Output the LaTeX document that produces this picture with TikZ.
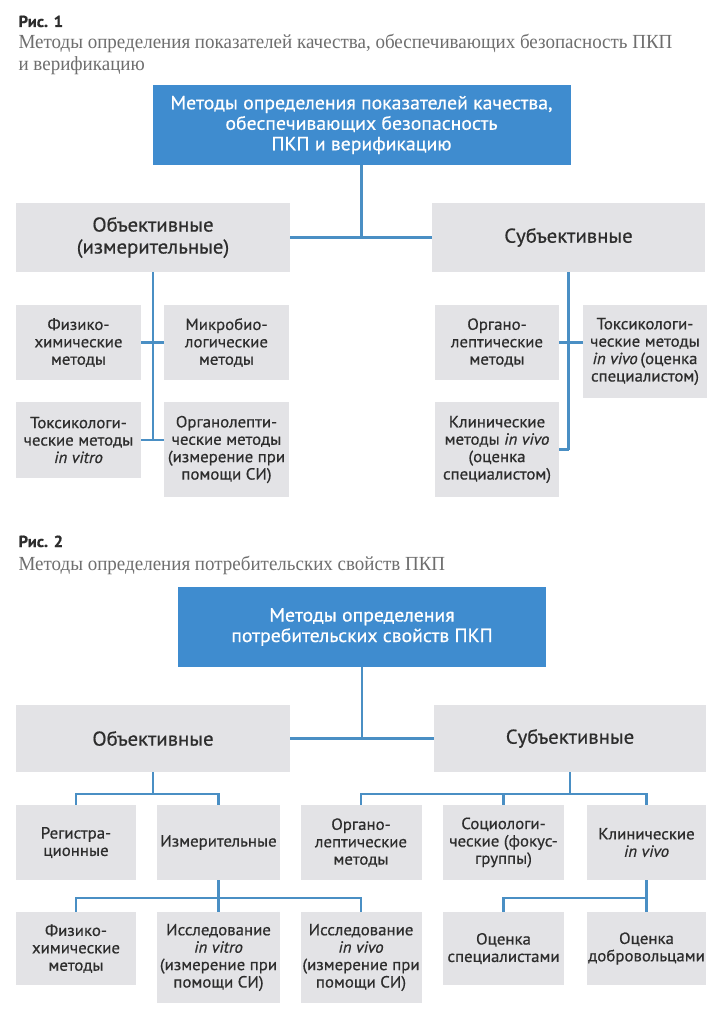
\documentclass[tikz,border=0pt]{standalone}
\usepackage{fontspec}
\setmainfont{PT Sans}[FakeStretch=1.04,FakeBold=0.6]
\newfontfamily\capserif{Liberation Serif}[FakeStretch=0.95]
\definecolor{topblue}{HTML}{3F8CCF}
\definecolor{linkblue}{HTML}{4A8FC4}
\definecolor{boxgrey}{HTML}{E3E3E6}
\definecolor{txtgrey}{HTML}{2D2D2D}
\definecolor{capgrey}{HTML}{6E6E6E}
\tikzset{
  gbox/.style={fill=boxgrey,text=txtgrey,align=center,inner sep=0pt,
    font=\fontsize{16.2}{17.4}\selectfont},
  hbox/.style={gbox,font=\fontsize{20}{22}\selectfont},
  bbox/.style={fill=topblue,text=white,align=center,inner sep=0pt,
    font=\fontsize{19}{20.5}\selectfont},
  ln/.style={draw=linkblue,line width=2.4pt},
  fignum/.style={anchor=base west,text=txtgrey,font=\fontsize{16}{20}\selectfont\bfseries},
  captext/.style={anchor=base west,text=capgrey,font=\capserif\fontsize{20}{22}\selectfont}
}
\begin{document}
\begin{tikzpicture}[x=1pt,y=-1pt]
\useasboundingbox[fill=white] (0,0) rectangle (725,1024);
% --- Рис. 1
\node[fignum] (n1) at (15,27) {Рис. 1};
\node[captext] (c1a) at (15,49) {Методы определения показателей качества, обеспечивающих безопасность ПКП};
\node[captext] (c1b) at (15,71) {и верификацию};
\node[bbox,minimum width=418,minimum height=80] (top1) at (361.5,125)
  {Методы определения показателей качества,\\обеспечивающих безопасность\\ПКП и верификацию};
\node[hbox,minimum width=274,minimum height=69] (obj1) at (153,237.5) {Объективные\\(измерительные)};
\node[hbox,minimum width=273,minimum height=69] (subj1) at (568.5,237.5) {Субъективные};
\node[gbox,minimum width=125,minimum height=75] (fiz1) at (78.5,342.5) {Физико-\\химические\\методы};
\node[gbox,minimum width=125,minimum height=75] (mik1) at (226.5,342.5) {Микробио-\\логические\\методы};
\node[gbox,minimum width=125,minimum height=76] (tox1) at (78.5,440) {Токсикологи-\\ческие методы\\\textit{in vitro}};
\node[gbox,minimum width=125,minimum height=95] (orl1) at (226.5,449.5) {Органолепти-\\ческие методы\\(измерение при\\помощи СИ)};
\node[gbox,minimum width=124,minimum height=75] (org1) at (497,342.5) {Органо-\\лептические\\методы};
\node[gbox,minimum width=124,minimum height=93] (tox2) at (645,351.5) {Токсикологи-\\ческие методы\\\textit{in vivo}\,(оценка\\специалистом)};
\node[gbox,minimum width=124,minimum height=95] (kln1) at (497,449.5) {Клинические\\методы \textit{in vivo}\\(оценка\\специалистом)};
\draw[ln] (obj1.east) -- (subj1.west);
\draw[ln] (top1.south) -- (top1.south |- obj1.east);
\draw[ln] (obj1.south) -- (obj1.south |- tox1.east);
\draw[ln] (fiz1.east) -- (mik1.west);
\draw[ln] (tox1.east) -- (tox1.east -| orl1.west);
\draw[ln] (subj1.south) -- (subj1.south |- kln1.east);
\draw[ln] (org1.east) -- (org1.east -| tox2.west);
\draw[ln] (kln1.east) -- (kln1.east -| subj1.south);
% --- Рис. 2
\node[fignum] (n2) at (15,547) {Рис. 2};
\node[captext] (c2) at (15,570) {Методы определения потребительских свойств ПКП};
\node[bbox,minimum width=368,minimum height=80] (top2) at (362,627) {Методы определения\\потребительских свойств ПКП};
\node[hbox,minimum width=274,minimum height=67] (obj2) at (153,738.5) {Объективные};
\node[hbox,minimum width=272,minimum height=67] (subj2) at (570,738.5) {Субъективные};
\node[gbox,minimum width=120,minimum height=75] (reg) at (76,842.5) {Регистра-\\ционные};
\node[gbox,minimum width=123,minimum height=75] (izm) at (218.5,842.5) {Измерительные};
\node[gbox,minimum width=121,minimum height=75] (org2) at (361,842.5) {Органо-\\лептические\\методы};
\node[gbox,minimum width=121,minimum height=75] (soc) at (503.5,842.5) {Социологи-\\ческие (фокус-\\группы)};
\node[gbox,minimum width=119,minimum height=75] (kln2) at (646.5,842.5) {Клинические\\\textit{in vivo}};
\node[gbox,minimum width=120,minimum height=73] (fiz2) at (76,948.5) {Физико-\\химические\\методы};
\node[gbox,minimum width=123,minimum height=91] (vitro) at (218.5,957.5) {Исследование\\\textit{in vitro}\\(измерение при\\помощи СИ)};
\node[gbox,minimum width=121,minimum height=91] (vivo) at (361,957.5) {Исследование\\\textit{in vivo}\\(измерение при\\помощи СИ)};
\node[gbox,minimum width=121,minimum height=73] (spec) at (503.5,948.5) {Оценка\\специалистами};
\node[gbox,minimum width=119,minimum height=73] (dobr) at (646.5,948.5) {Оценка\\добровольцами};
\draw[ln] (obj2.east) -- (subj2.west);
\draw[ln] (top2.south) -- (top2.south |- obj2.east);
\draw[ln] (reg.north) -- ++(0,-11) -| (izm.north);
\draw[ln] (obj2.south) -- ++(0,22);
\draw[ln] (org2.north) -- ++(0,-11) -| (kln2.north);
\draw[ln] (soc.north) -- ++(0,-11);
\draw[ln] (subj2.south) -- ++(0,22);
\draw[ln] (fiz2.north) -- ++(0,-14) -| (vivo.north);
\draw[ln] (vitro.north) -- (izm.south);
\draw[ln] (spec.north) -- ++(0,-14) -| (dobr.north);
\draw[ln] (dobr.north) -- (kln2.south);
\end{tikzpicture}
\end{document}
